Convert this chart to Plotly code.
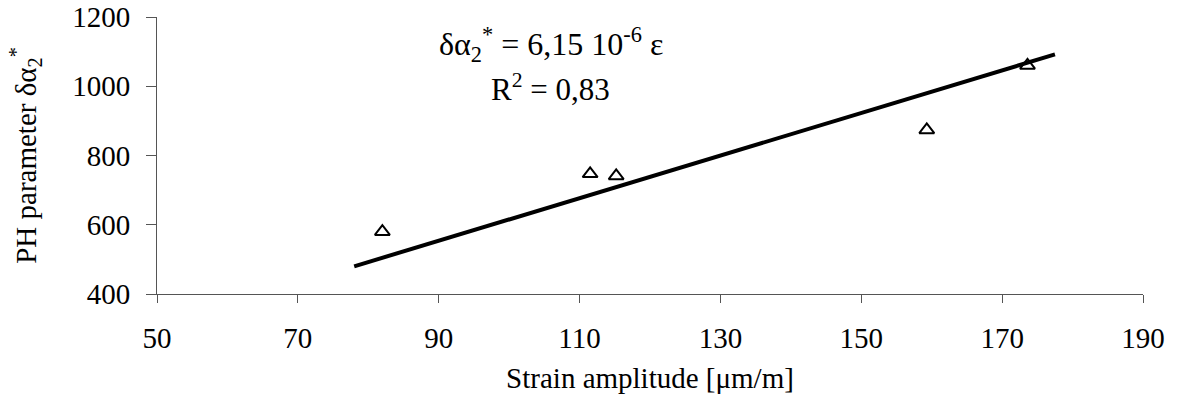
import plotly.graph_objects as go

# Data
strain = [82, 111.5, 115.2, 159.3, 173.6]
ph_param = [580, 747, 741, 874, 1060]

fit_x = [78, 177.5]
fit_y = [480, 1092]

x_ticks = [50, 70, 90, 110, 130, 150, 170, 190]
y_ticks = [400, 600, 800, 1000, 1200]

FONT = "Liberation Serif, Times New Roman, serif"

fig = go.Figure()
fig.add_trace(go.Scatter(
    x=fit_x, y=fit_y, mode="lines",
    line=dict(color="black", width=4),
    showlegend=False, hoverinfo="skip"))
fig.add_trace(go.Scatter(
    x=strain, y=ph_param, mode="markers",
    marker=dict(symbol="triangle-up-open", size=13, color="black",
                line=dict(color="black", width=2)),
    showlegend=False))

fig.add_annotation(x=105.9, y=1122, xref="x", yref="y", showarrow=False,
                   text="δα<sub>2</sub><sup>*</sup> = 6,15 10<sup>-6</sup> ε",
                   font=dict(family=FONT, size=32, color="black"))
fig.add_annotation(x=105.9, y=995, xref="x", yref="y", showarrow=False,
                   text="R<sup>2</sup> = 0,83",
                   font=dict(family=FONT, size=31, color="black"))

axis_common = dict(showgrid=False, zeroline=False, showline=True,
                   linecolor="#555", linewidth=1, ticks="outside",
                   tickcolor="#555", tickwidth=1, automargin=False,
                   tickfont=dict(family=FONT, size=29, color="black"))

fig.update_xaxes(range=[50, 190], tickvals=x_ticks,
                 ticktext=[str(v) for v in x_ticks], ticklen=8,
                 ticklabelstandoff=10,
                 title=dict(text="Strain amplitude [μm/m]",
                            font=dict(family=FONT, size=29, color="black"),
                            standoff=14),
                 **axis_common)
fig.update_yaxes(range=[400, 1200], tickvals=y_ticks,
                 ticktext=[str(v) for v in y_ticks], ticklen=10,
                 ticklabelstandoff=10,
                 title=dict(text="PH parameter δα<sub>2</sub><sup>*</sup>",
                            font=dict(family=FONT, size=29, color="black"),
                            standoff=27),
                 **axis_common)

fig.update_layout(width=1179, height=400,
                  margin=dict(l=157, r=36, t=17, b=106),
                  plot_bgcolor="white", paper_bgcolor="white")

# remove the default page body margin so the figure fills the window
fig.write_html("out.html", config={"displayModeBar": False},
               post_script="document.body.style.margin='0';")
